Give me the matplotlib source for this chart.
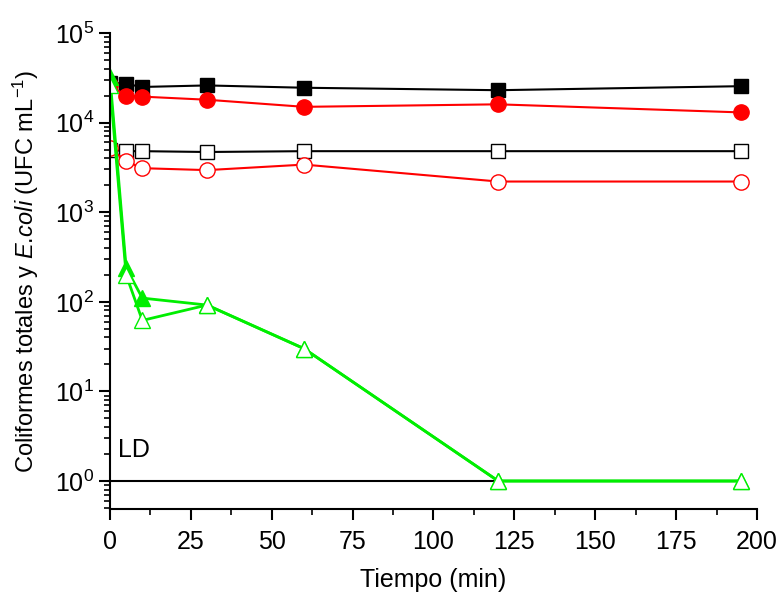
import matplotlib.pyplot as plt
from matplotlib.ticker import LogLocator, MultipleLocator, NullFormatter

plt.rcParams['font.family'] = ['Liberation Sans', 'DejaVu Sans']
plt.rcParams['mathtext.fontset'] = 'custom'
plt.rcParams['mathtext.rm'] = 'Liberation Sans'
plt.rcParams['mathtext.it'] = 'Liberation Sans:italic'

tiempo = [0, 5, 10, 30, 60, 120, 195]

# coliformes totales / E. coli, filled and open symbols
ct_lleno = [2.8e4, 2.7e4, 2.5e4, 2.6e4, 2.45e4, 2.3e4, 2.55e4]
ec_lleno = [2.6e4, 2.0e4, 1.95e4, 1.8e4, 1.5e4, 1.6e4, 1.3e4]
ct_vacio = [5.0e3, 4.8e3, 4.8e3, 4.7e3, 4.8e3, 4.8e3, 4.8e3]
ec_vacio = [5.2e3, 3.7e3, 3.1e3, 2.95e3, 3.4e3, 2.2e3, 2.2e3]
tr_lleno = [3.2e4, 240, 110, 92, 30, 1.0, 1.0]
tr_vacio = [2.6e4, 200, 62, 92, 30, 1.0, 1.0]

ld_x = [0, 195]
ld_y = [1.0, 1.0]

fig = plt.figure(figsize=(7.81, 5.97), dpi=100)
ax = fig.add_axes([0.1408, 0.1474, 0.8285, 0.7973])

ax.plot(ld_x, ld_y, color='black', lw=1.5)
ax.plot(tiempo, ct_lleno, color='black', lw=1.5, marker='s', ms=10, mfc='black', mec='black')
ax.plot(tiempo, ec_lleno, color='red', lw=1.5, marker='o', ms=11, mfc='red', mec='red')
ax.plot(tiempo, ct_vacio, color='black', lw=1.5, marker='s', ms=10, mfc='white', mec='black', mew=1)
ax.plot(tiempo, ec_vacio, color='red', lw=1.5, marker='o', ms=11, mfc='white', mec='red', mew=1)
ax.plot(tiempo, tr_lleno, color='#00ee00', lw=2, marker='^', ms=12, mfc='#00ee00', mec='#00ee00')
ax.plot(tiempo, tr_vacio, color='#00ee00', lw=2, marker='^', ms=12, mfc='white', mec='#00ee00', mew=1)

ax.text(2.5, 2.2, 'LD', fontsize=18, va='center', ha='left')

ax.set_yscale('log')
ax.set_xlim(0, 200)
ax.set_ylim(0.487, 1e5)
ax.xaxis.set_major_locator(MultipleLocator(25))
ax.xaxis.set_minor_locator(MultipleLocator(12.5))
ax.yaxis.set_major_locator(LogLocator(base=10, numticks=10))
ax.yaxis.set_minor_locator(LogLocator(base=10, subs=range(2, 10), numticks=20))
ax.yaxis.set_minor_formatter(NullFormatter())

for s in ['top', 'right']:
    ax.spines[s].set_visible(False)
for s in ['left', 'bottom']:
    ax.spines[s].set_linewidth(1.5)
ax.tick_params(which='major', direction='out', length=8, width=1.5, labelsize=18)
ax.tick_params(axis='x', which='major', pad=7)
ax.tick_params(which='minor', direction='out', length=4, width=1.2)

ax.set_xlabel('Tiempo (min)', fontsize=18, labelpad=10)
ax.set_ylabel('Coliformes totales y $\\mathit{E.\\!coli}$ (UFC mL$^{-1}$)', fontsize=17, labelpad=10)

fig.savefig('out.png', dpi=100)
